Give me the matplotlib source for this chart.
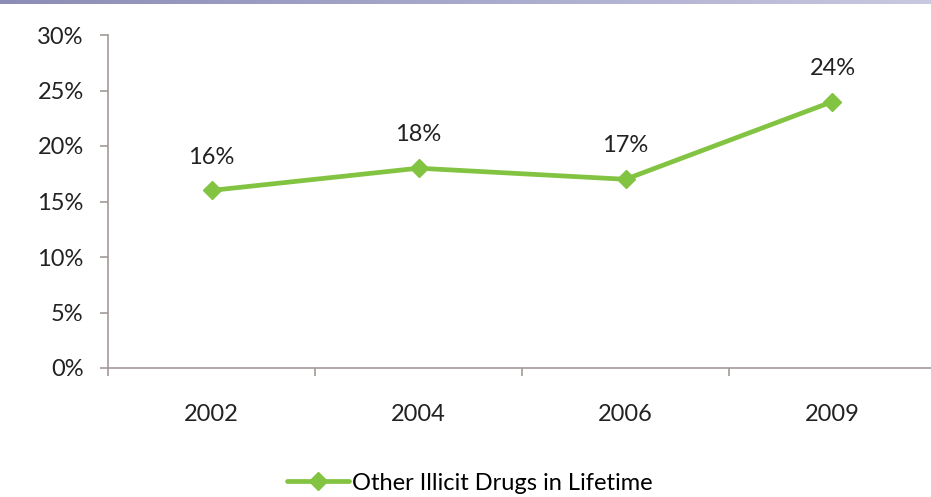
import matplotlib
matplotlib.use("Agg")
import matplotlib.pyplot as plt
import numpy as np

years = ["2002", "2004", "2006", "2009"]
values = [16, 18, 17, 24]
series_name = "Other Illicit Drugs in Lifetime"
y_ticks = [0, 5, 10, 15, 20, 25, 30]

plt.rcParams['font.family'] = ['Lato', 'DejaVu Sans']

W, H = 931, 497
fig = plt.figure(figsize=(W / 100, H / 100), dpi=100)
fig.patch.set_facecolor("white")

# thin gradient band along the top edge
grad = np.linspace(0, 1, 256).reshape(1, -1)
band = fig.add_axes([0, 1 - 4 / H, 1, 4 / H])
cmap = matplotlib.colors.LinearSegmentedColormap.from_list("band", ["#8c8cb6", "#a9a9cc", "#c8c8e0"])
band.imshow(grad, aspect="auto", cmap=cmap, extent=[0, 1, 0, 1])
band.set_axis_off()

left, right = 108 / W, 936 / W
bottom, top = 1 - 368 / H, 1 - 35 / H
ax = fig.add_axes([left, bottom, right - left, top - bottom])

green = "#82c341"
axis_col = "#a39a98"
fs = 17
x = np.arange(len(years))
line, = ax.plot(x, values, color=green, lw=3.4, marker="D", markersize=9,
                markerfacecolor=green, markeredgecolor=green, label=series_name,
                solid_capstyle="round")

for xi, v in zip(x, values):
    ax.annotate(f"{v}%", (xi, v), xytext=(0, 24), textcoords="offset points",
                ha="center", va="center", fontsize=fs, color="#222222")

ax.set_xlim(-0.5, len(years) - 0.5)
ax.set_ylim(0, 30)
ax.set_yticks(y_ticks)
ax.set_yticklabels([f"{t}%" for t in y_ticks], fontsize=fs, color="#222222")
ax.set_xticks(x)
ax.set_xticklabels(years, fontsize=fs, color="#222222")
ax.set_xticks(np.arange(len(years) + 1) - 0.5, minor=True)

for s in ["top", "right"]:
    ax.spines[s].set_visible(False)
for s in ["left", "bottom"]:
    ax.spines[s].set_color(axis_col)
    ax.spines[s].set_linewidth(1.2)

ax.tick_params(axis="y", length=5.5, width=1.2, color=axis_col, pad=12)
ax.tick_params(axis="x", which="major", length=0, pad=26)
ax.tick_params(axis="x", which="minor", length=6, width=1.2, color=axis_col)

fig.legend(handles=[line], labels=[series_name], loc="center",
           bbox_to_anchor=(0.505, 1 - 483 / H), frameon=False, fontsize=fs,
           handlelength=2.6, handletextpad=0.15)

fig.savefig("out.png", dpi=100, facecolor="white")
